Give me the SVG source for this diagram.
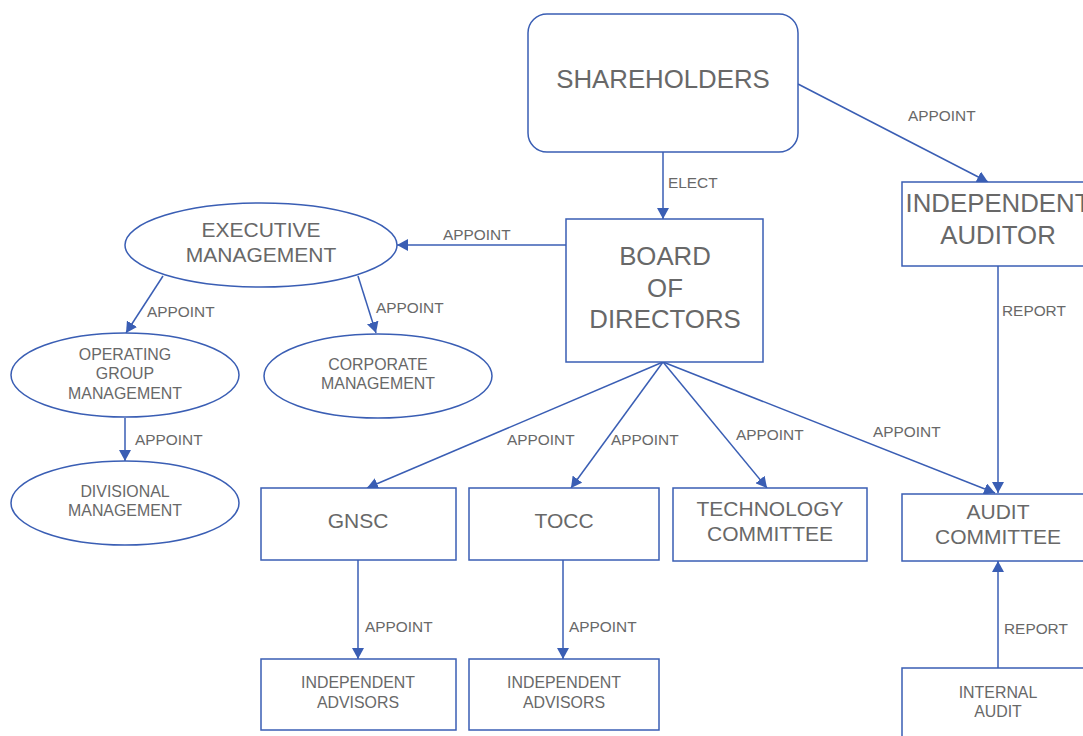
<svg xmlns="http://www.w3.org/2000/svg" width="1083" height="736" viewBox="0 0 1083 736">
  <style>
    .box { fill: #ffffff; stroke: #3a5eb4; stroke-width: 1.5; }
    .edge { fill: none; stroke: #3a5eb4; stroke-width: 1.5; }
    text { font-family: "Liberation Sans", Arial, sans-serif; fill: #686868; }
    .big { font-size: 25.8px; text-anchor: middle; }
    .mid { font-size: 21px; text-anchor: middle; }
    .small { font-size: 15.9px; text-anchor: middle; }
    .lbl { font-size: 15.4px; }
  </style>
  <defs>
    <marker id="arrow" markerUnits="userSpaceOnUse" markerWidth="12" markerHeight="12" viewBox="0 0 12 12" refX="11" refY="6" orient="auto">
      <path d="M0,0 L11,6 L0,12 Z" fill="#3a5eb4"/>
    </marker>
  </defs>

  <rect width="1083" height="736" fill="#ffffff"/>

  <!-- connectors -->
  <g id="connectors">
    <line class="edge" x1="663" y1="152" x2="663" y2="219" marker-end="url(#arrow)"/>
    <line class="edge" x1="798" y1="84" x2="988" y2="182" marker-end="url(#arrow)"/>
    <line class="edge" x1="998" y1="266" x2="998" y2="493" marker-end="url(#arrow)"/>
    <line class="edge" x1="998" y1="668" x2="998" y2="561" marker-end="url(#arrow)"/>
    <line class="edge" x1="566" y1="245" x2="397" y2="245" marker-end="url(#arrow)"/>
    <line class="edge" x1="163" y1="276" x2="126" y2="333" marker-end="url(#arrow)"/>
    <line class="edge" x1="358" y1="276" x2="376" y2="333" marker-end="url(#arrow)"/>
    <line class="edge" x1="125" y1="418" x2="125" y2="461" marker-end="url(#arrow)"/>
    <line class="edge" x1="663" y1="362" x2="367" y2="488" marker-end="url(#arrow)"/>
    <line class="edge" x1="663" y1="362" x2="571" y2="488" marker-end="url(#arrow)"/>
    <line class="edge" x1="663" y1="362" x2="767" y2="488" marker-end="url(#arrow)"/>
    <line class="edge" x1="663" y1="362" x2="995" y2="493" marker-end="url(#arrow)"/>
    <line class="edge" x1="358" y1="560" x2="358" y2="659" marker-end="url(#arrow)"/>
    <line class="edge" x1="563" y1="560" x2="563" y2="659" marker-end="url(#arrow)"/>

    <text class="lbl" x="668" y="188">ELECT</text>
    <text class="lbl" x="908" y="121">APPOINT</text>
    <text class="lbl" x="1002" y="316">REPORT</text>
    <text class="lbl" x="1004" y="634">REPORT</text>
    <text class="lbl" x="443" y="240">APPOINT</text>
    <text class="lbl" x="147" y="317">APPOINT</text>
    <text class="lbl" x="376" y="313">APPOINT</text>
    <text class="lbl" x="135" y="445">APPOINT</text>
    <text class="lbl" x="507" y="445">APPOINT</text>
    <text class="lbl" x="611" y="445">APPOINT</text>
    <text class="lbl" x="736" y="440">APPOINT</text>
    <text class="lbl" x="873" y="437">APPOINT</text>
    <text class="lbl" x="365" y="632">APPOINT</text>
    <text class="lbl" x="569" y="632">APPOINT</text>
  </g>

  <g id="shareholders">
    <rect class="box" x="528" y="14" width="270" height="138" rx="19"/>
    <text class="big" x="663" y="88">SHAREHOLDERS</text>
  </g>

  <g id="board">
    <rect class="box" x="566" y="219" width="197" height="143"/>
    <text class="big" x="665" y="265">BOARD</text>
    <text class="big" x="665" y="297">OF</text>
    <text class="big" x="665" y="328">DIRECTORS</text>
  </g>

  <!-- box runs past the right edge of the page -->
  <g id="independent-auditor">
    <rect class="box" x="902" y="182" width="200" height="84"/>
    <text class="big" x="998" y="212">INDEPENDENT</text>
    <text class="big" x="998" y="244">AUDITOR</text>
  </g>

  <g id="executive-management">
    <ellipse class="box" cx="261" cy="245" rx="136" ry="42"/>
    <text class="mid" x="261" y="237">EXECUTIVE</text>
    <text class="mid" x="261" y="262">MANAGEMENT</text>
  </g>

  <g id="operating-group-management">
    <ellipse class="box" cx="125" cy="375" rx="114" ry="42"/>
    <text class="small" x="125" y="360">OPERATING</text>
    <text class="small" x="125" y="379">GROUP</text>
    <text class="small" x="125" y="399">MANAGEMENT</text>
  </g>

  <g id="corporate-management">
    <ellipse class="box" cx="378" cy="376" rx="114" ry="42"/>
    <text class="small" x="378" y="370">CORPORATE</text>
    <text class="small" x="378" y="389">MANAGEMENT</text>
  </g>

  <g id="divisional-management">
    <ellipse class="box" cx="125" cy="503" rx="114" ry="42"/>
    <text class="small" x="125" y="497">DIVISIONAL</text>
    <text class="small" x="125" y="516">MANAGEMENT</text>
  </g>

  <g id="gnsc">
    <rect class="box" x="261" y="488" width="195" height="72"/>
    <text class="mid" x="358" y="528">GNSC</text>
  </g>

  <g id="tocc">
    <rect class="box" x="469" y="488" width="190" height="72"/>
    <text class="mid" x="564" y="528">TOCC</text>
  </g>

  <g id="technology-committee">
    <rect class="box" x="673" y="488" width="194" height="73"/>
    <text class="mid" x="770" y="516">TECHNOLOGY</text>
    <text class="mid" x="770" y="541">COMMITTEE</text>
  </g>

  <g id="audit-committee">
    <rect class="box" x="902" y="494" width="200" height="67"/>
    <text class="mid" x="998" y="519">AUDIT</text>
    <text class="mid" x="998" y="544">COMMITTEE</text>
  </g>

  <g id="gnsc-advisors">
    <rect class="box" x="261" y="659" width="195" height="71"/>
    <text class="small" x="358" y="688">INDEPENDENT</text>
    <text class="small" x="358" y="708">ADVISORS</text>
  </g>

  <g id="tocc-advisors">
    <rect class="box" x="469" y="659" width="190" height="71"/>
    <text class="small" x="564" y="688">INDEPENDENT</text>
    <text class="small" x="564" y="708">ADVISORS</text>
  </g>

  <g id="internal-audit">
    <rect class="box" x="902" y="668" width="200" height="90"/>
    <text class="small" x="998" y="698">INTERNAL</text>
    <text class="small" x="998" y="717">AUDIT</text>
  </g>
</svg>
